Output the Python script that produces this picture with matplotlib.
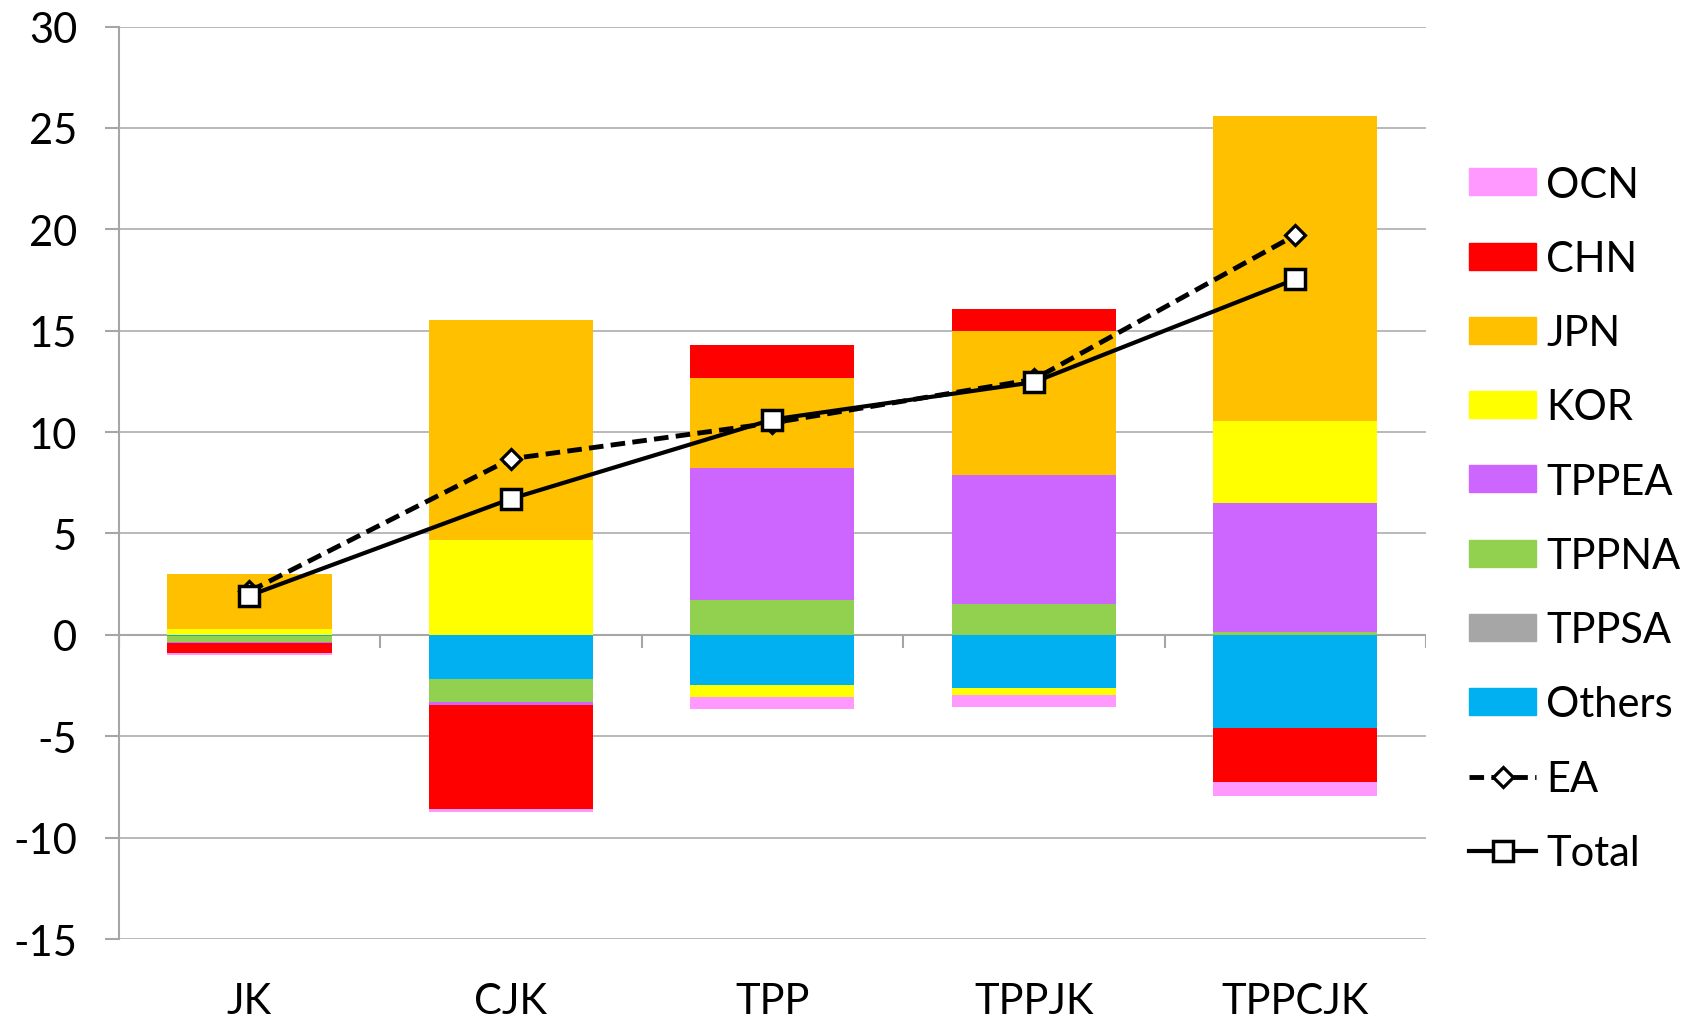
import matplotlib
matplotlib.use("Agg")
import matplotlib.pyplot as plt
from matplotlib.patches import Patch
from matplotlib.lines import Line2D
import numpy as np

plt.rcParams['font.family'] = ['Lato', 'DejaVu Sans']
plt.rcParams['axes.unicode_minus'] = False

scenarios = ["JK", "CJK", "TPP", "TPPJK", "TPPCJK"]

# Stacked contributions by region (series order = stacking order)
others = [-0.08, -2.17, -2.47, -2.61, -4.60]
tppsa  = [0.00, 0.00, 0.00, 0.00, 0.00]
tppna  = [-0.28, -1.15, 1.74, 1.50, 0.12]
tppea  = [-0.05, -0.16, 6.48, 6.40, 6.40]
kor    = [0.28, 4.67, -0.57, -0.35, 4.05]
jpn    = [2.70, 10.86, 4.45, 7.07, 15.03]
chn    = [-0.48, -5.10, 1.63, 1.10, -2.67]
ocn    = [-0.10, -0.16, -0.63, -0.61, -0.68]

ea_total = [2.15, 8.68, 10.45, 12.60, 19.71]
total    = [1.94, 6.71, 10.62, 12.46, 17.54]

series = [
    ("Others", others, "#00B0F0"),
    ("TPPSA", tppsa, "#A6A6A6"),
    ("TPPNA", tppna, "#92D050"),
    ("TPPEA", tppea, "#CC66FF"),
    ("KOR", kor, "#FFFF00"),
    ("JPN", jpn, "#FFC000"),
    ("CHN", chn, "#FF0000"),
    ("OCN", ocn, "#FF99FF"),
]

fig = plt.figure(figsize=(16.94, 10.20), dpi=100)
ax = fig.add_axes([0.0701, 0.0784, 0.7717, 0.8946])

x = np.arange(len(scenarios))
width = 0.628
pos_base = np.zeros(len(scenarios))
neg_base = np.zeros(len(scenarios))
for name, vals, color in series:
    v = np.array(vals, dtype=float)
    bottoms = np.where(v >= 0, pos_base, neg_base)
    ax.bar(x, v, width, bottom=bottoms, color=color, linewidth=0, zorder=2)
    pos_base = pos_base + np.where(v >= 0, v, 0)
    neg_base = neg_base + np.where(v < 0, v, 0)

ea_style = dict(color="black", lw=3.5, dashes=(3.0, 1.5), marker="D", ms=10,
                mfc="white", mec="black", mew=2.3)
tot_style = dict(color="black", lw=3.0, marker="s", ms=14,
                 mfc="white", mec="black", mew=2.5)

ax.plot(x, ea_total, zorder=4, **ea_style)
ax.plot(x, total, zorder=5, **tot_style)

ax.set_xlim(-0.5, len(scenarios) - 0.5)
ax.set_ylim(-15, 30)
ax.set_yticks(np.arange(-15, 31, 5))
ax.yaxis.grid(True, color="#B3B3B3", lw=1.3, zorder=0)
ax.set_axisbelow(True)

for s in ["top", "right", "bottom"]:
    ax.spines[s].set_visible(False)
ax.spines["left"].set_color("#A6A6A6")
ax.spines["left"].set_linewidth(1.5)

# horizontal category axis crossing at zero, with boundary tick marks
ax.axhline(0, color="#A6A6A6", lw=1.5, zorder=1)
bounds = np.arange(-0.5, len(scenarios), 1.0)
ax.vlines(bounds, -0.65, 0, color="#A6A6A6", lw=1.5, zorder=1)

ax.set_xticks(x)
ax.set_xticklabels(scenarios)
ax.tick_params(axis="x", length=0, pad=31, labelsize=30)
ax.tick_params(axis="y", length=10, width=1.5, color="#A6A6A6",
               pad=20, labelsize=30)

handles = [
    Patch(color="#FF99FF", label="OCN"),
    Patch(color="#FF0000", label="CHN"),
    Patch(color="#FFC000", label="JPN"),
    Patch(color="#FFFF00", label="KOR"),
    Patch(color="#CC66FF", label="TPPEA"),
    Patch(color="#92D050", label="TPPNA"),
    Patch(color="#A6A6A6", label="TPPSA"),
    Patch(color="#00B0F0", label="Others"),
    Line2D([], [], label="EA", **ea_style),
    Line2D([], [], label="Total", **tot_style),
]
fig.legend(handles=handles, loc="upper left", bbox_to_anchor=(0.8575, 0.853),
           frameon=False, fontsize=30, handlelength=1.6, handleheight=0.62,
           handletextpad=0.25, labelspacing=0.87, borderaxespad=0)

fig.savefig("out.png", dpi=100)
